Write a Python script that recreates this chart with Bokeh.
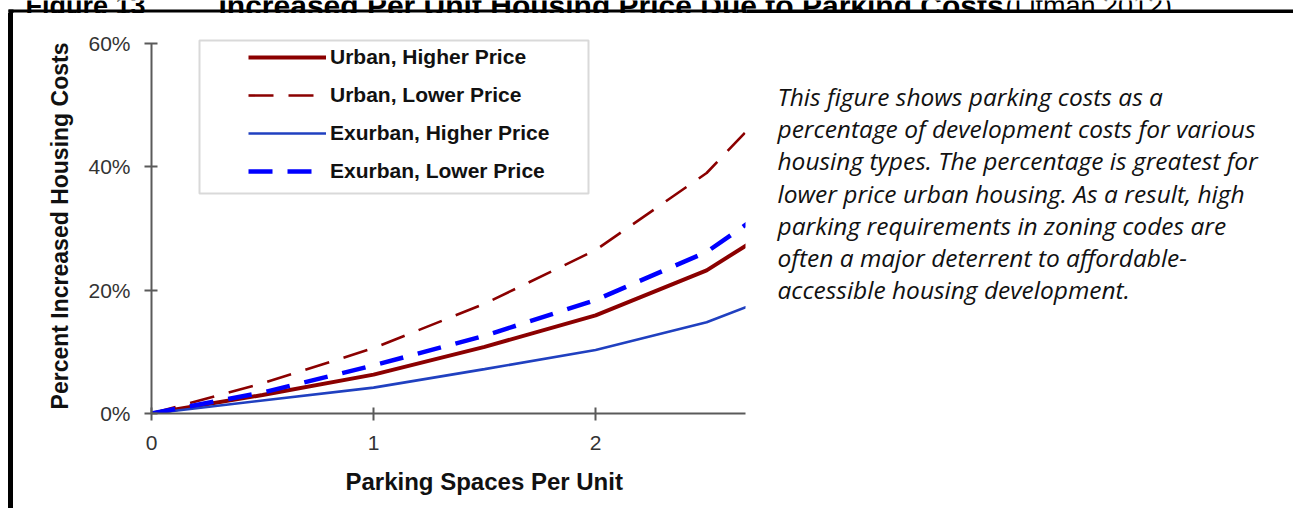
from bokeh.plotting import figure
from bokeh.layouts import column, row, Spacer
from bokeh.models import (Range1d, FixedTicker, PrintfTickFormatter, Legend, LegendItem,
                          BoxAnnotation, Title, ColumnDataSource)
from bokeh.core.properties import value
from bokeh.embed import file_html
from bokeh.resources import INLINE

# ---------------- data ----------------
spaces = [0, 0.5, 1, 1.5, 2, 2.5, 3]
urban_higher = [0, 3.0, 6.3, 10.8, 15.9, 23.2, 34.6]
urban_lower = [0, 4.9, 10.6, 17.8, 26.5, 39.0, 57.9]
exurban_higher = [0, 2.1, 4.2, 7.2, 10.3, 14.8, 21.7]
exurban_lower = [0, 3.4, 7.8, 12.6, 18.4, 26.2, 38.7]
series_names = ["Urban, Higher Price", "Urban, Lower Price",
                "Exurban, Higher Price", "Exurban, Lower Price"]
x_ticks = [0, 1, 2]
y_ticks = [0, 20, 40, 60]
x_title = "Parking Spaces Per Unit"
y_title = "Percent Increased Housing Costs"
fig_title = ["Figure 13", "Increased Per Unit Housing Price Due to Parking Costs", "(Litman 2012)"]
note_lines = [
    "This figure shows parking costs as a",
    "percentage of development costs for various",
    "housing types. The percentage is greatest for",
    "lower price urban housing. As a result, high",
    "parking requirements in zoning codes are",
    "often a major deterrent to affordable-",
    "accessible housing development.",
]

# ---------------- page geometry (pixels) ----------------
PAGE_W, PAGE_H = 1293, 508
HEAD_H = 13
BAR_L, BAR_W, BAR_GAP = 8, 5, 1
CHART_W = 746
BODY_H = PAGE_H - HEAD_H
NOTES_X0 = BAR_L + BAR_W + BAR_GAP + CHART_W
NOTES_W = PAGE_W - NOTES_X0
FRAME_TOP_PX, FRAME_BOTTOM_PX = 38, 413
BORDER_TOP = FRAME_TOP_PX - HEAD_H
BORDER_BOTTOM = PAGE_H - FRAME_BOTTOM_PX


def bare(width, height, xr, yr, **kw):
    f = figure(width=width, height=height, title=None, output_backend="svg",
               toolbar_location=None, x_range=xr, y_range=yr,
               x_axis_type=None, y_axis_type=None,
               min_border=0, min_border_left=0, min_border_right=0,
               min_border_top=kw.get("top", 0), min_border_bottom=kw.get("bottom", 0))
    f.outline_line_color = None
    f.grid.visible = False
    f.background_fill_color = "white"
    f.border_fill_color = "white"
    return f


# ---------------- head: cropped title + top rule ----------------
head = bare(PAGE_W, HEAD_H, Range1d(0, PAGE_W), Range1d(0, HEAD_H))
title_src = ColumnDataSource(dict(x=[25, 218, 1005], y=[HEAD_H - 5] * 3, text=fig_title,
                                  style=["bold", "bold", "normal"],
                                  size=["27px", "30px", "27px"]))
head.text(x="x", y="y", text="text", source=title_src, text_baseline="alphabetic",
          text_font=value("Liberation Sans"), text_font_style="style",
          text_font_size="size", text_color="#000000")
head.add_layout(BoxAnnotation(left=BAR_L, right=746, top=HEAD_H - 9, bottom=HEAD_H - 12,
                              fill_color="black", fill_alpha=1, line_color=None))
head.add_layout(BoxAnnotation(left=746, right=PAGE_W, top=HEAD_H - 9, bottom=0,
                              fill_color="black", fill_alpha=1, line_color=None))
head.add_layout(BoxAnnotation(left=BAR_L, right=BAR_L + BAR_W, top=HEAD_H - 9, bottom=0,
                              fill_color="black", fill_alpha=1, line_color=None))

# ---------------- left rule (a solid black strip) ----------------
bar = Spacer(width=BAR_W, height=BODY_H, styles={"background-color": "black"})

# ---------------- chart ----------------
X_MAX = 2.675
Y_MAX = 60.81
p = figure(width=CHART_W, height=BODY_H, title=None, output_backend="svg",
           toolbar_location=None,
           x_range=Range1d(0, X_MAX), y_range=Range1d(0, Y_MAX),
           min_border_left=151 - (BAR_L + BAR_W + BAR_GAP), min_border_right=15,
           min_border_top=BORDER_TOP, min_border_bottom=BORDER_BOTTOM)
p.outline_line_color = None
p.grid.visible = False
p.background_fill_color = "white"
p.border_fill_color = "white"

axis_col = "#5a5a5a"
for ax in (p.xaxis[0], p.yaxis[0]):
    ax.axis_line_color = axis_col
    ax.axis_line_width = 2
    ax.major_tick_line_color = axis_col
    ax.major_tick_line_width = 2
    ax.major_tick_in = 6
    ax.major_tick_out = 7
    ax.minor_tick_line_color = None
    ax.major_label_text_font = "Liberation Sans"
    ax.major_label_text_font_size = "21px"
    ax.major_label_text_color = "#333333"

p.xaxis.ticker = FixedTicker(ticks=x_ticks)
p.xaxis.major_label_standoff = 15
p.yaxis.ticker = FixedTicker(ticks=y_ticks)
p.yaxis.bounds = (0, 60)
p.yaxis.formatter = PrintfTickFormatter(format="%d%%")
p.yaxis.major_label_standoff = 14
p.yaxis.axis_label = y_title
p.yaxis.axis_label_text_font = "Liberation Sans"
p.yaxis.axis_label_text_font_style = "bold"
p.yaxis.axis_label_text_font_size = "23px"
p.yaxis.axis_label_text_color = "#111111"
p.yaxis.axis_label_standoff = 12

p.add_layout(Title(text=x_title, align="left", offset=194, standoff=26.5,
                   text_font="Liberation Sans", text_font_style="bold",
                   text_font_size="24px", text_color="#111111"), "below")

r_uh = p.line(spaces, urban_higher, line_color="#8b0000", line_width=4)
r_ul = p.line(spaces, urban_lower, line_color="#8b0000", line_width=2.6, line_dash="25 15")
r_eh = p.line(spaces, exurban_higher, line_color="#2040c0", line_width=2.6)
r_el = p.line(spaces, exurban_lower, line_color="#0000ff", line_width=4.5, line_dash="24 15")

legend = Legend(items=[LegendItem(label=series_names[0], renderers=[r_uh]),
                       LegendItem(label=series_names[1], renderers=[r_ul]),
                       LegendItem(label=series_names[2], renderers=[r_eh]),
                       LegendItem(label=series_names[3], renderers=[r_el])],
                location=(97, 223), padding=0, margin=0, spacing=0,
                glyph_width=78, glyph_height=38, label_height=38, label_standoff=4,
                border_line_color=None, background_fill_alpha=0,
                label_text_font="Liberation Sans", label_text_font_style="bold",
                label_text_font_size="21px", label_text_color="#111111")
p.add_layout(legend)

# legend frame (pixel edges converted through the chart scale)
PX_X0, PX_PER_X = 151, 594 / X_MAX
PX_PER_Y = (FRAME_BOTTOM_PX - FRAME_TOP_PX) / Y_MAX
p.add_layout(BoxAnnotation(left=(199 - PX_X0) / PX_PER_X, right=(588 - PX_X0) / PX_PER_X,
                           top=(FRAME_BOTTOM_PX - 40) / PX_PER_Y,
                           bottom=(FRAME_BOTTOM_PX - 193) / PX_PER_Y,
                           fill_alpha=0, line_color="#808080", line_width=2))

# ---------------- explanatory note ----------------
notes = bare(NOTES_W, BODY_H, Range1d(NOTES_X0, PAGE_W),
             Range1d(FRAME_BOTTOM_PX, FRAME_TOP_PX), top=BORDER_TOP, bottom=BORDER_BOTTOM)
note_src = ColumnDataSource(dict(x=[777] * len(note_lines),
                                 y=[96 + 32.2 * i for i in range(len(note_lines))],
                                 text=note_lines))
notes.text(x="x", y="y", text="text", source=note_src, text_baseline="alphabetic",
           text_font=value("Open Sans"), text_font_style="italic",
           text_font_size="24.5px", text_color="#111111")

body = row(Spacer(width=BAR_L, height=BODY_H), bar, Spacer(width=BAR_GAP, height=BODY_H),
           p, notes, spacing=0)
layout = column(head, body, spacing=0)
open("out.html", "w").write(file_html(layout, INLINE))
